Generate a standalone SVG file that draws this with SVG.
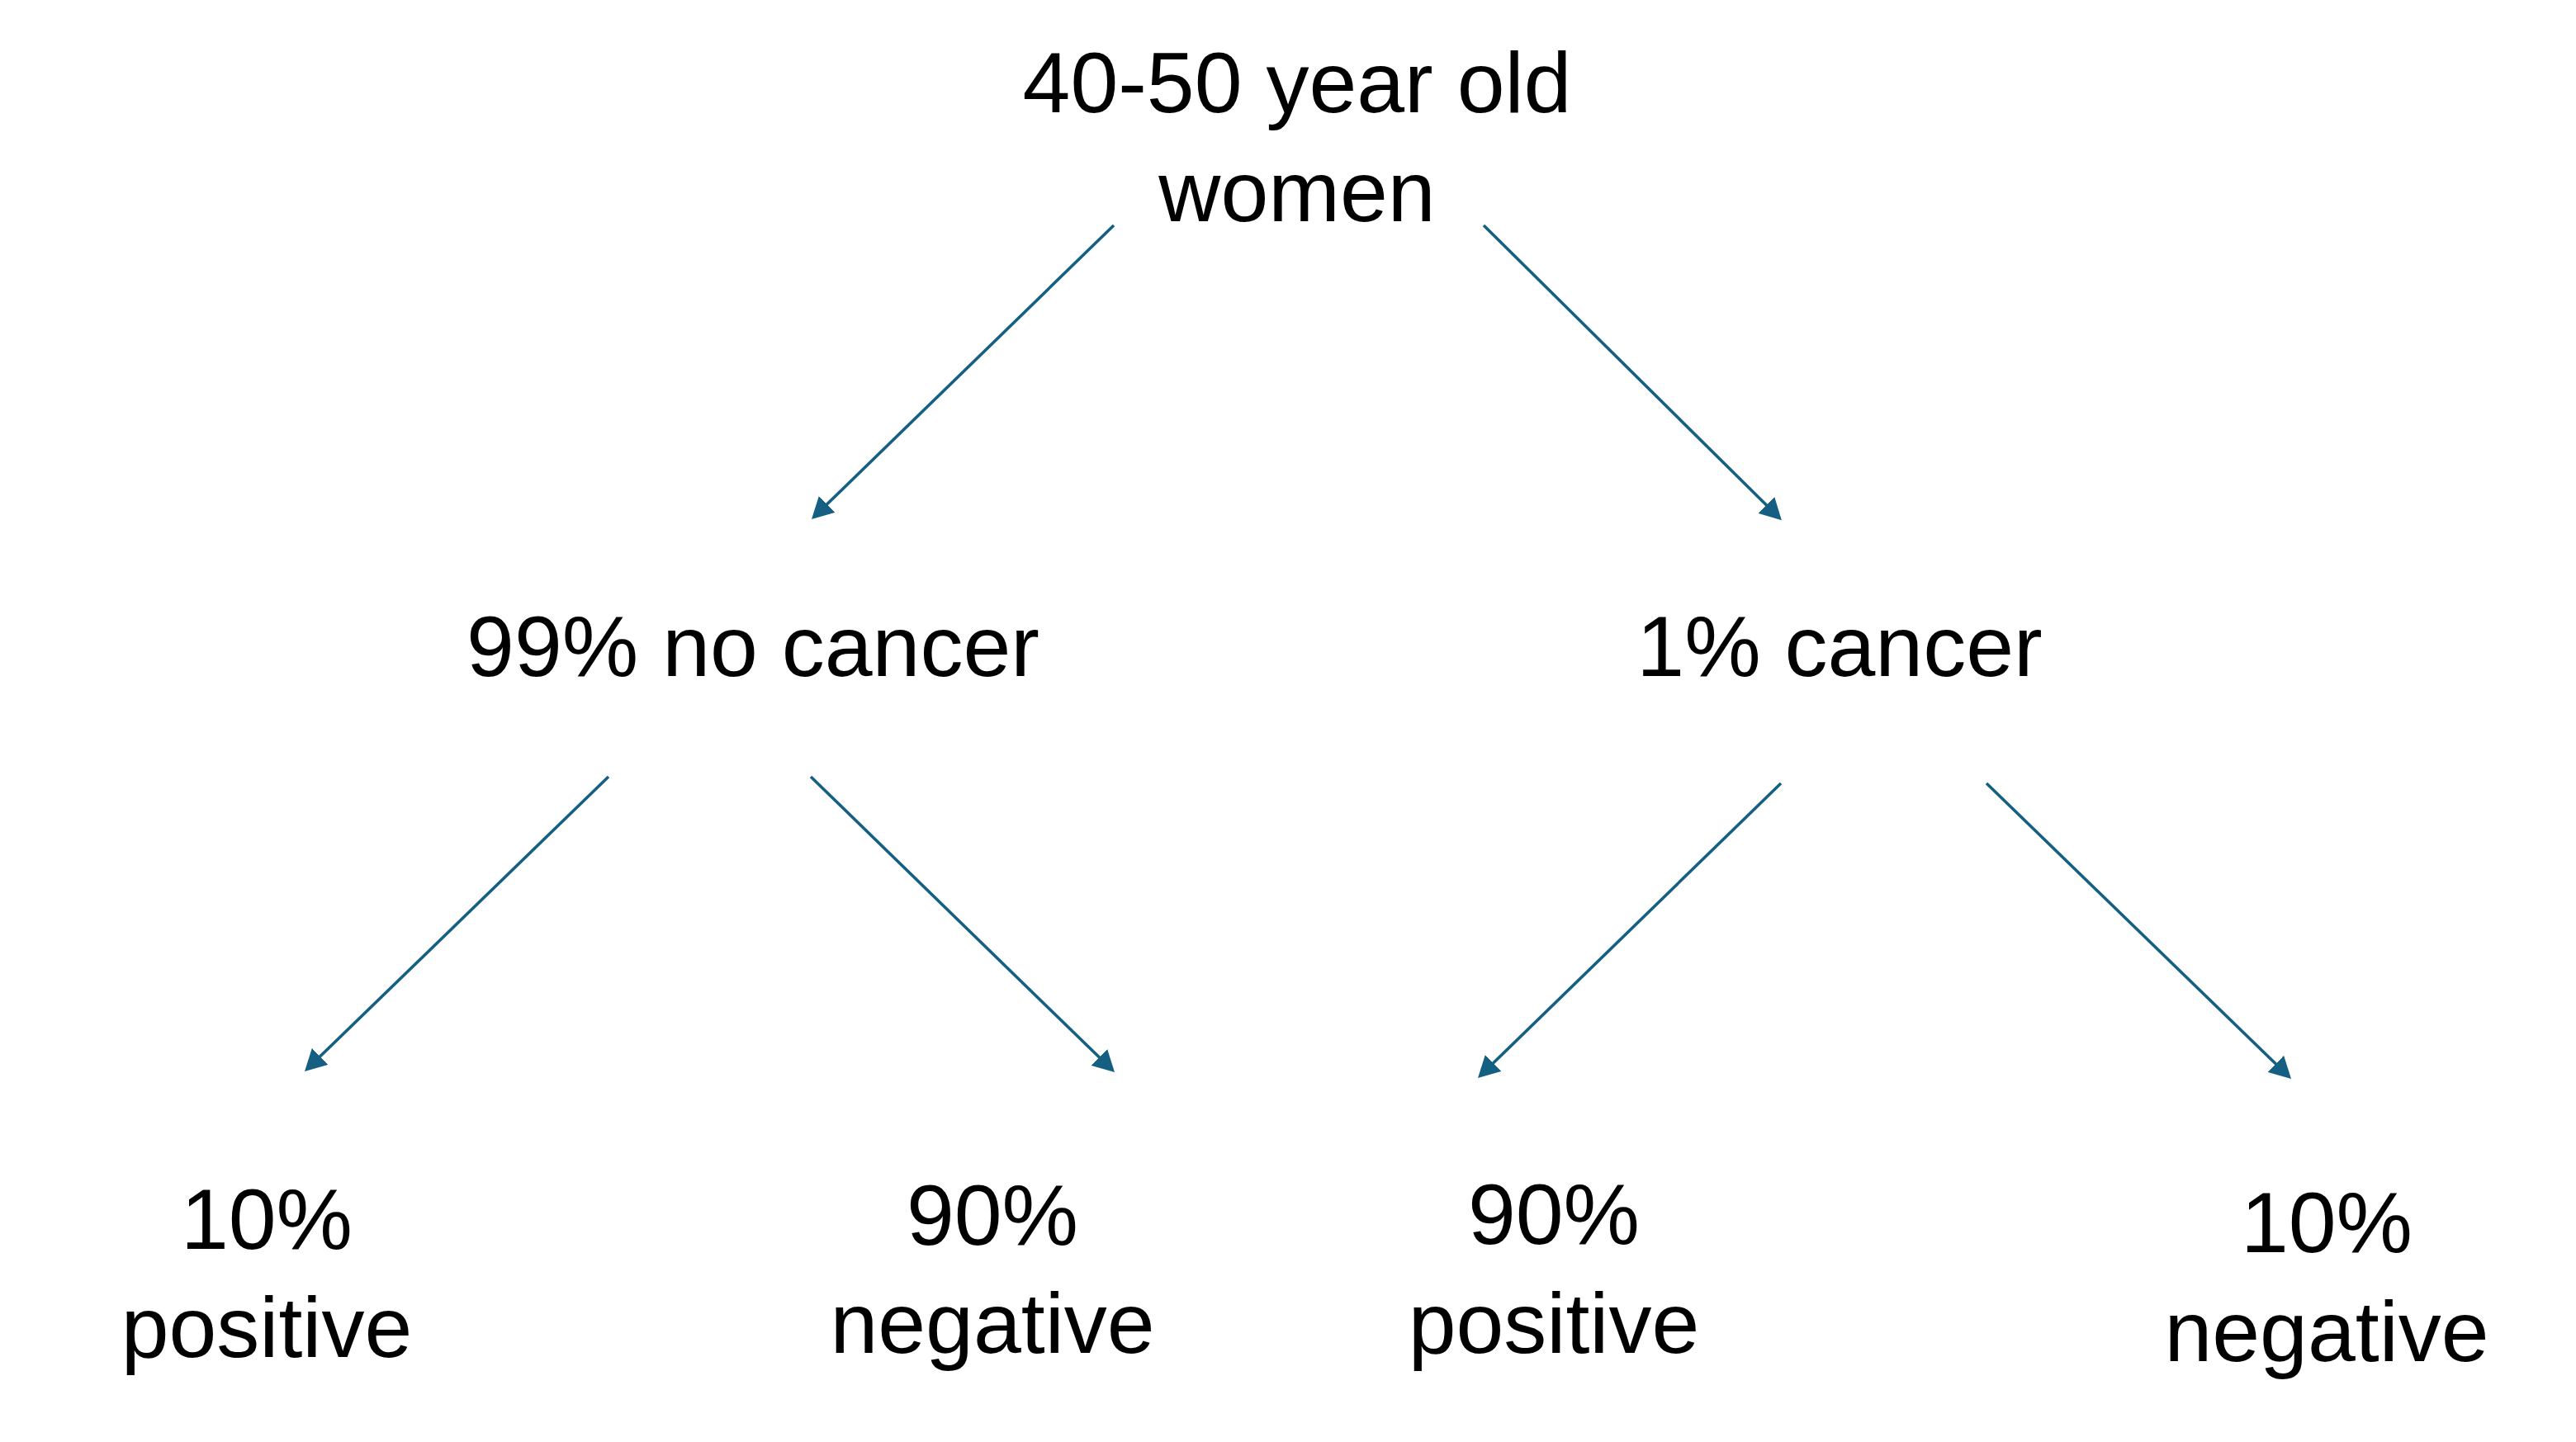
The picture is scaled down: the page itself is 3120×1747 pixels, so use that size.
<svg xmlns="http://www.w3.org/2000/svg" width="3120" height="1747" viewBox="0 0 3120 1747">
<style>
.lbl{font-family:"Liberation Sans",Arial,sans-serif;font-size:104px;fill:#000;text-anchor:middle}
.conn{stroke:#156082;stroke-width:3.6;fill:none;marker-end:url(#ah)}
</style>
<defs>
<marker id="ah" markerUnits="userSpaceOnUse" markerWidth="26" markerHeight="28" refX="2" refY="14" orient="auto">
<path d="M0,0 L26,14 L0,28 z" fill="#156082"/>
</marker>
</defs>
<rect width="3120" height="1747" fill="#fff"/>
<g id="connectors">
<line class="conn" x1="1349" y1="273" x2="1000.2" y2="612.3"/>
<line class="conn" x1="1797" y1="273" x2="2140.8" y2="613.3"/>
<line class="conn" x1="737" y1="941" x2="386.2" y2="1281.3"/>
<line class="conn" x1="982" y1="941" x2="1332.8" y2="1282.3"/>
<line class="conn" x1="2157" y1="949" x2="1807.2" y2="1289.3"/>
<line class="conn" x1="2406" y1="949" x2="2757.8" y2="1290.3"/>
</g>
<g id="root"><text class="lbl" x="1571" y="136">40-50 year old</text><text class="lbl" x="1571" y="268">women</text></g>
<g id="no-cancer"><text class="lbl" x="912" y="819">99% no cancer</text></g>
<g id="cancer"><text class="lbl" x="2228" y="819">1% cancer</text></g>
<g id="nc-positive"><text class="lbl" x="323" y="1513">10%</text><text class="lbl" x="323" y="1644">positive</text></g>
<g id="nc-negative"><text class="lbl" x="1202" y="1508">90%</text><text class="lbl" x="1202" y="1639">negative</text></g>
<g id="c-positive"><text class="lbl" x="1882" y="1507">90%</text><text class="lbl" x="1882" y="1639">positive</text></g>
<g id="c-negative"><text class="lbl" x="2818" y="1517">10%</text><text class="lbl" x="2818" y="1649">negative</text></g>
</svg>
